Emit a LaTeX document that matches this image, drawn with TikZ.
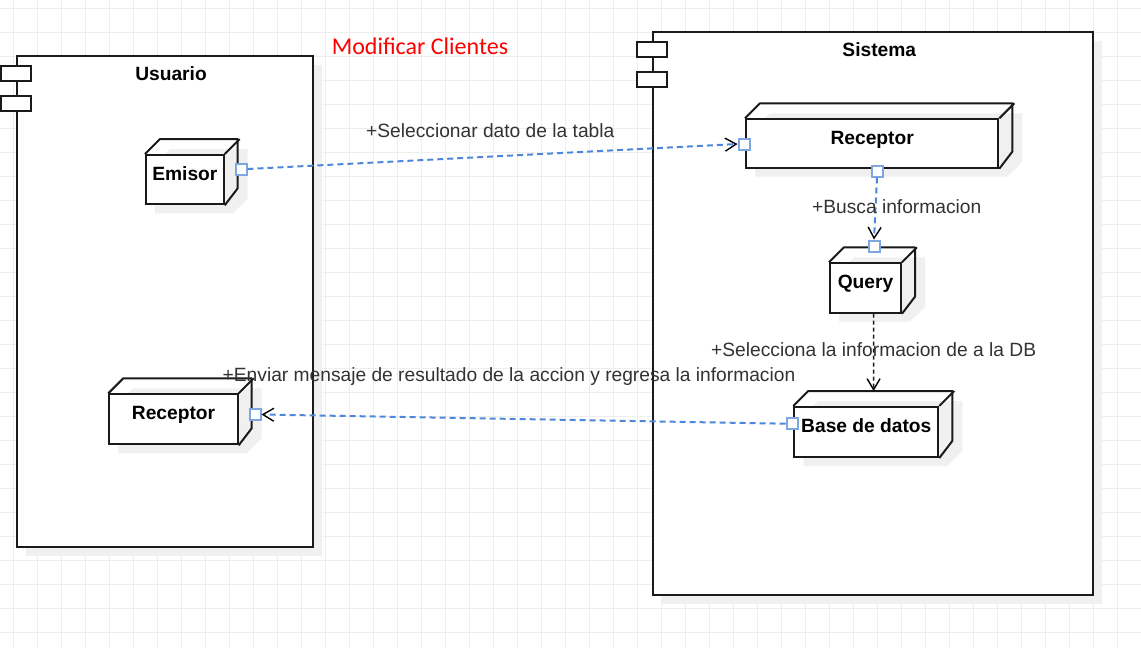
\documentclass[tikz,border=0pt]{standalone}
\usepackage{fontspec}
\setmainfont{Liberation Sans}
\newfontfamily\titlefont{Carlito}
\usetikzlibrary{arrows.meta}
\definecolor{gridc}{HTML}{EEEEEE}
\definecolor{edgeblue}{HTML}{4F86DD}
\definecolor{portblue}{HTML}{7EA6E0}
\definecolor{shadowc}{HTML}{F0F0F0}
\definecolor{txtc}{HTML}{333333}
\definecolor{linec}{HTML}{1A1A1A}
\newcommand\ddnode[6]{% name, x, y, w, h, label
  \fill[shadowc] (#2+10,#3+10) -- ++(15,-15) -- ++(#4,0) -- ++(0,#5) -- ++(-15,15) -- ++(-#4,0) -- cycle;
  \node[face, minimum width=#4pt, minimum height=#5pt] (#1) at (#2,#3) {};
  \draw[edge3d] (#1.north west) -- ++(15,-15) -- ++(#4,0) -- ++(0,#5) -- (#1.south east);
  \draw[edge3d] (#1.north east) -- ++(15,-15);
  \node[lbl] (#1-label) at ([yshift=-26pt]#1.north) {#6};
}
\begin{document}
\begin{tikzpicture}[x=1pt,y=-1pt,
  container/.style={draw=linec, line width=2pt, fill=white, anchor=north west, inner sep=0pt},
  face/.style={draw=linec, line width=2pt, fill=white, anchor=north west, inner sep=0pt},
  edge3d/.style={draw=linec, line width=2pt, line join=round},
  tab/.style={draw=linec, line width=2pt, fill=white},
  port/.style={draw=portblue, fill=white, line width=2pt, minimum size=11pt, inner sep=0pt},
  lbl/.style={font=\fontsize{19.2}{22}\selectfont\bfseries, anchor=base, inner sep=0pt},
  elbl/.style={font=\fontsize{19.2}{22}\selectfont, text=txtc, anchor=base, inner sep=0pt},
  blueflow/.style={draw=edgeblue, line width=2pt, dash pattern=on 6pt off 4pt},
  blackflow/.style={draw=linec, line width=1.5pt, dash pattern=on 4pt off 3pt},
  opentip/.style={-{Straight Barb[color=black,length=11pt,width=13pt,line width=1.4pt]}}
]
\useasboundingbox (0,0) rectangle (1141,648);
\fill[white] (0,0) rectangle (1141,648);
% grid
\foreach \i in {0,...,47} \draw[gridc, line width=1pt] (13.5+24*\i,0) -- (13.5+24*\i,648);
\foreach \j in {0,...,26} \draw[gridc, line width=1pt] (0,8+24*\j) -- (1141,8+24*\j);

% title
\node[text=red, font=\titlefont\fontsize{24}{28}\selectfont, anchor=base, inner sep=0pt] (title) at (420,54) {Modificar Clientes};

% containers
\fill[shadowc] (26,65) rectangle (322,556);
\node[container, minimum width=296pt, minimum height=491pt] (usuario) at (16,55) {};
\draw[tab] ([xshift=-15pt,yshift=-10.5pt]usuario.north west) rectangle ++(30,15);
\draw[tab] ([xshift=-15pt,yshift=-40.5pt]usuario.north west) rectangle ++(30,15);
\node[lbl] (usuario-label) at (171,80) {Usuario};

\fill[shadowc] (662,41) rectangle (1102,604);
\node[container, minimum width=440pt, minimum height=563pt] (sistema) at (652,31) {};
\draw[tab] ([xshift=-15pt,yshift=-10.5pt]sistema.north west) rectangle ++(30,15);
\draw[tab] ([xshift=-15pt,yshift=-40.5pt]sistema.north west) rectangle ++(30,15);
\node[lbl] (sistema-label) at (879.3,56) {Sistema};

% 3D nodes
\ddnode{emisor}{145}{154}{77.7}{49.3}{Emisor}
\ddnode{receptorU}{108.3}{393.3}{128.4}{50}{Receptor}
\ddnode{receptorS}{745}{118.3}{252.3}{48.4}{Receptor}
\ddnode{query}{829}{262.3}{71}{49.4}{Query}
\ddnode{base}{793.3}{406}{144}{50}{Base de datos}

% ports
\node[port] (pEmisor) at (241,169) {};
\node[port] (pRecL) at (744,144) {};
\node[port] (pRecB) at (877,171) {};
\node[port] (pQueryT) at (874,246) {};
\node[port] (pBaseL) at (792,423.7) {};
\node[port] (pRecU) at (255,414.5) {};

% connectors
\draw[blueflow, opentip] (pEmisor.east) -- (pRecL.west);
\draw[blueflow, opentip] (pRecB.south) -- (pQueryT.north);
\draw[blackflow, opentip] ([xshift=8pt]query.south) -- ([xshift=7.3pt,yshift=15pt]base.north);
\draw[blueflow, opentip] (pBaseL.west) -- (pRecU.east);

% connector labels
\node[elbl] (l1) at (490.3,137.7) {+Seleccionar dato de la tabla};
\node[elbl] (l2) at (896.7,213.3) {+Busca informacion};
\node[elbl] (l3) at (873.7,356) {+Selecciona la informacion de a la DB};
\node[elbl] (l4) at (509,381) {+Enviar mensaje de resultado de la accion y regresa la informacion};
\end{tikzpicture}
\end{document}
